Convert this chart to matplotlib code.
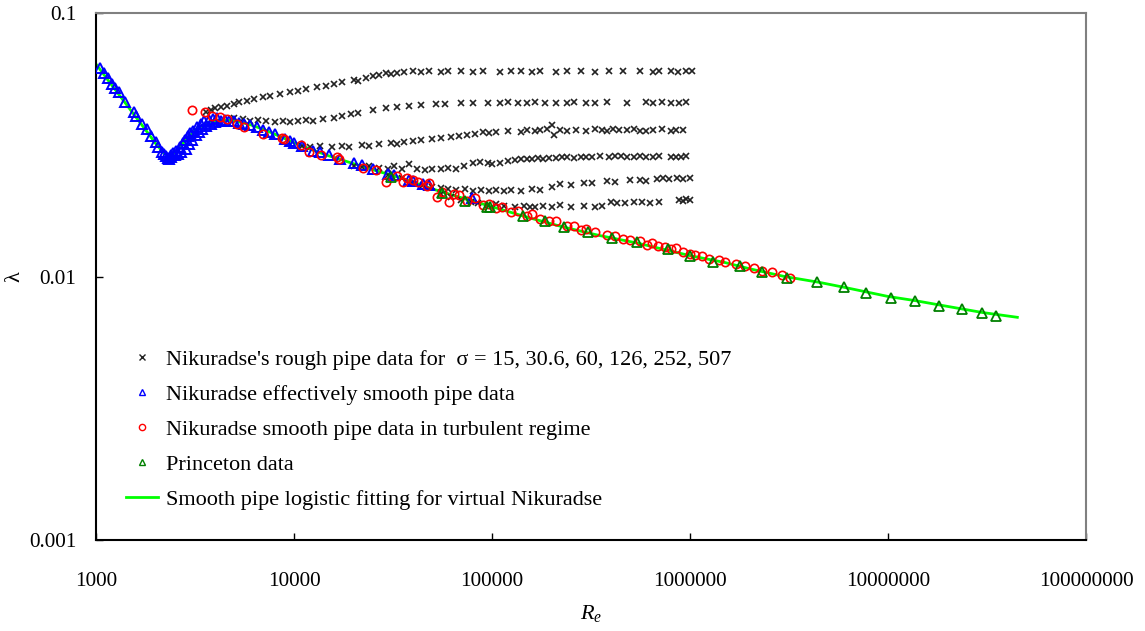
# -*- coding: utf-8 -*-
'''
Nikuradse / Princeton friction factor data, log-log
'''
import matplotlib
matplotlib.use('Agg')
import matplotlib.pyplot as plt
from matplotlib.ticker import FixedLocator, NullLocator

# logistic fitting line (smooth pipe)
fit_re = [950, 1000, 1200, 1500, 1800, 2000, 2200, 2300, 2500, 2800, 3200, 3700, 4200,
          5000, 6000, 7000, 8500, 10000, 12000, 15000, 20000, 26000, 35000, 50000, 70000,
          100000, 150000, 230000, 350000, 540000, 1000000, 1500000, 2000000, 3000000,
          4500000, 6000000, 8000000, 10000000, 13700000, 20000000, 30000000, 45000000]
fit_lam = [0.0675, 0.064, 0.0533, 0.0427, 0.0356, 0.032, 0.0294, 0.0287, 0.0295, 0.0325,
           0.0362, 0.0385, 0.0393, 0.0390, 0.0377, 0.0362, 0.0340, 0.0322, 0.0305, 0.0287,
           0.0268, 0.0252, 0.0236, 0.0215, 0.0199, 0.0184, 0.0168, 0.0154, 0.0143, 0.0134,
           0.0120, 0.0113, 0.0107, 0.0100, 0.0095, 0.0091, 0.0087, 0.0084, 0.0081, 0.0077,
           0.0073, 0.0070]

# Nikuradse effectively smooth pipe data
blue_re = [1050, 1100, 1150, 1200, 1250, 1300, 1400, 1550, 1600, 1700, 1800, 1900, 2000,
           2050, 2150, 2200, 2250, 2300, 2350, 2400, 2400, 2450, 2500, 2550, 2600, 2650,
           2700, 2750, 2800, 2850, 2900, 2950, 3000, 3050, 3100, 3200, 3250, 3300, 3400,
           3450, 3500, 3600, 3700, 3800, 3900, 4000, 4100, 4300, 4500, 4700, 5000, 5300,
           5600, 6000, 6500, 7000, 7500, 8000, 9000, 9500, 10000, 11000, 12500, 13500,
           15000, 17000, 20000, 22000, 25000, 30000, 32000, 38000, 40000, 45000, 48000, 79000]
blue_lam = [0.0620, 0.0590, 0.0565, 0.0540, 0.0520, 0.0500, 0.0460, 0.0420, 0.0405, 0.0380,
            0.0362, 0.0342, 0.0325, 0.0310, 0.0298, 0.0292, 0.0286, 0.0282, 0.0280, 0.0284,
            0.0290, 0.0295, 0.0288, 0.0300, 0.0292, 0.0310, 0.0298, 0.0320, 0.0330, 0.0305,
            0.0340, 0.0318, 0.0350, 0.0330, 0.0358, 0.0345, 0.0370, 0.0352, 0.0380, 0.0362,
            0.0390, 0.0372, 0.0392, 0.0380, 0.0395, 0.0385, 0.0398, 0.0390, 0.0393, 0.0388,
            0.0390, 0.0384, 0.0380, 0.0375, 0.0368, 0.0360, 0.0352, 0.0346, 0.0333, 0.0328,
            0.0320, 0.0312, 0.0300, 0.0297, 0.0288, 0.0280, 0.0270, 0.0264, 0.0256, 0.0245,
            0.0243, 0.0233, 0.0230, 0.0224, 0.0222, 0.0198]

# Nikuradse smooth pipe data in turbulent regime
red_re = [3050, 3550, 3850, 4250, 4600, 5150, 5600, 6950, 8700, 8900, 10800, 11900, 13700,
          16400, 16800, 22300, 25900, 29000, 33000, 35500, 37000, 40000, 42400, 46800, 48000,
          52600, 56000, 61000, 64000, 68000, 75000, 82000, 90000, 97000, 105000, 112000,
          125000, 135000, 150000, 160000, 175000, 195000, 210000, 240000, 260000, 280000,
          300000, 330000, 380000, 420000, 460000, 500000, 560000, 610000, 640000, 690000,
          750000, 800000, 850000, 920000, 1000000, 1060000, 1150000, 1250000, 1400000,
          1500000, 1700000, 1900000, 2100000, 2300000, 2600000, 2900000, 3200000]
red_lam = [0.0428, 0.0420, 0.0408, 0.0402, 0.0396, 0.0378, 0.0369, 0.0348, 0.0336, 0.0332,
           0.0316, 0.0298, 0.0290, 0.0283, 0.0280, 0.0259, 0.0253, 0.0229, 0.0240, 0.0229,
           0.0236, 0.0232, 0.0229, 0.0220, 0.0226, 0.0201, 0.0210, 0.0192, 0.0206, 0.0203,
           0.0194, 0.0198, 0.0186, 0.0188, 0.0182, 0.0184, 0.0176, 0.0178, 0.0170, 0.0172,
           0.0166, 0.0163, 0.0162, 0.0155, 0.0156, 0.0150, 0.0152, 0.0147, 0.0144, 0.0143,
           0.0139, 0.0137, 0.0136, 0.0132, 0.0134, 0.0130, 0.0129, 0.0127, 0.0128, 0.0124,
           0.0122, 0.0121, 0.0120, 0.0117, 0.0116, 0.0114, 0.0112, 0.0110, 0.0108, 0.0105,
           0.0104, 0.0101, 0.0099]

# Princeton data
prin_re = [31000, 56000, 73000, 94000, 97500, 144000, 186000, 230000, 305000, 406000,
           540000, 770000, 1000000, 1300000, 1780000, 2300000, 3100000, 4400000, 6000000,
           7700000, 10300000, 13700000, 18200000, 23700000, 29700000, 35000000]
prin_lam = [0.0239, 0.0207, 0.0194, 0.0184, 0.0184, 0.0169, 0.0163, 0.0154, 0.0148, 0.0140,
            0.0135, 0.0127, 0.0120, 0.0114, 0.0110, 0.0104, 0.0099, 0.00955, 0.0091,
            0.00868, 0.0083, 0.0081, 0.0077, 0.0075, 0.0073, 0.0071]

# rough pipe data, sigma = 15
r15_re = [3600, 3800, 4000, 4300, 4600, 5000, 5300, 5800, 6300, 7000, 7600, 8500, 9500,
          10500, 11500, 13000, 14500, 16000, 17500, 20000, 21000, 23000, 25000, 27000, 29000,
          31000, 33000, 36000, 40000, 44000, 48000, 55000, 60000, 70000, 80000, 90000,
          110000, 125000, 140000, 160000, 175000, 210000, 240000, 280000, 330000, 390000,
          460000, 560000, 650000, 700000, 800000, 870000, 950000, 1020000]
r15_lam = [0.0420, 0.0430, 0.0435, 0.0440, 0.0445, 0.0452, 0.0458, 0.0465, 0.0472, 0.0478,
           0.0485, 0.0492, 0.0500, 0.0508, 0.0515, 0.0522, 0.0530, 0.0540, 0.0545, 0.0555,
           0.0550, 0.0565, 0.0575, 0.0580, 0.0590, 0.0585, 0.0592, 0.0598, 0.0600, 0.0595,
           0.0600, 0.0598, 0.0600, 0.0600, 0.0597, 0.0600, 0.0598, 0.0602, 0.0600, 0.0598,
           0.0600, 0.0597, 0.0600, 0.0600, 0.0598, 0.0600, 0.0600, 0.0600, 0.0598, 0.0600,
           0.0600, 0.0598, 0.0600, 0.0600]

# sigma = 30.6
r30_re = [5000, 5500, 6000, 6600, 7200, 8000, 8800, 9600, 10500, 11500, 12500, 14000, 16000,
          17500, 19500, 21000, 25000, 29000, 33000, 38000, 44000, 52000, 58000, 70000, 80000,
          95000, 110000, 120000, 135000, 150000, 165000, 185000, 210000, 240000, 260000,
          300000, 330000, 380000, 480000, 600000, 650000, 720000, 800000, 880000, 950000]
r30_lam = [0.0398, 0.0395, 0.0390, 0.0393, 0.0388, 0.0385, 0.0388, 0.0385, 0.0390, 0.0392,
           0.0390, 0.0395, 0.0400, 0.0405, 0.0415, 0.0418, 0.0428, 0.0435, 0.0440, 0.0442,
           0.0448, 0.0450, 0.0452, 0.0455, 0.0457, 0.0455, 0.0457, 0.0458, 0.0455, 0.0457,
           0.0458, 0.0457, 0.0455, 0.0457, 0.0458, 0.0457, 0.0456, 0.0458, 0.0457, 0.0458,
           0.0455, 0.0458, 0.0457, 0.0454, 0.0458]

# sigma = 60
r60_re = [11000, 12000, 13500, 15500, 17500, 19000, 22000, 24000, 27000, 31000, 33000,
          36000, 40000, 44000, 50000, 55000, 62000, 68000, 75000, 82000, 90000, 97000,
          105000, 120000, 140000, 150000, 165000, 175000, 190000, 200000, 205000, 220000,
          240000, 265000, 300000, 330000, 360000, 380000, 410000, 440000, 480000, 520000,
          560000, 600000, 650000, 720000, 800000, 850000, 920000]
r60_lam = [0.0312, 0.0310, 0.0312, 0.0310, 0.0312, 0.0309, 0.0316, 0.0313, 0.0318, 0.0320,
           0.0318, 0.0324, 0.0326, 0.0330, 0.0332, 0.0336, 0.0338, 0.0340, 0.0345, 0.0348,
           0.0352, 0.0350, 0.0355, 0.0357, 0.0355, 0.0360, 0.0358, 0.0360, 0.0362, 0.0376,
           0.0345, 0.0360, 0.0358, 0.0360, 0.0357, 0.0362, 0.0360, 0.0358, 0.0362, 0.0360,
           0.0360, 0.0362, 0.0358, 0.0357, 0.0360, 0.0362, 0.0358, 0.0360, 0.0360]

# sigma = 126
r126_re = [20000, 22000, 24000, 27000, 30000, 32000, 35000, 38000, 42000, 46000, 50000,
           55000, 60000, 66000, 72000, 80000, 87000, 95000, 100000, 110000, 120000, 130000,
           140000, 150000, 160000, 170000, 180000, 195000, 210000, 225000, 240000, 260000,
           280000, 300000, 320000, 350000, 390000, 420000, 450000, 480000, 520000, 560000,
           600000, 650000, 700000, 800000, 850000, 900000, 960000]
r126_lam = [0.0262, 0.0260, 0.0262, 0.0258, 0.0256, 0.0262, 0.0255, 0.0268, 0.0256, 0.0254,
            0.0256, 0.0255, 0.0258, 0.0256, 0.0262, 0.0270, 0.0272, 0.0270, 0.0268, 0.0270,
            0.0275, 0.0276, 0.0278, 0.0280, 0.0278, 0.0281, 0.0280, 0.0282, 0.0281, 0.0283,
            0.0284, 0.0282, 0.0285, 0.0283, 0.0285, 0.0286, 0.0284, 0.0286, 0.0287, 0.0283,
            0.0285, 0.0286, 0.0284, 0.0285, 0.0286, 0.0285, 0.0284, 0.0285, 0.0286]

# sigma = 252
r252_re = [30000, 35000, 40000, 45000, 50000, 55000, 60000, 66000, 73000, 80000, 88000,
           97000, 105000, 115000, 125000, 140000, 160000, 175000, 200000, 220000, 250000,
           290000, 320000, 380000, 420000, 500000, 560000, 600000, 680000, 730000, 780000,
           860000, 920000, 1000000]
r252_lam = [0.0242, 0.0236, 0.0228, 0.0222, 0.0218, 0.0216, 0.0214, 0.0213, 0.0215, 0.0212,
            0.0213, 0.0211, 0.0213, 0.0212, 0.0213, 0.0212, 0.0214, 0.0213, 0.0218, 0.0224,
            0.0223, 0.0226, 0.0226, 0.0230, 0.0228, 0.0232, 0.0233, 0.0231, 0.0235, 0.0236,
            0.0234, 0.0236, 0.0235, 0.0236]

# sigma = 507
r507_re = [55000, 62000, 70000, 78000, 85000, 95000, 105000, 115000, 130000, 145000, 155000,
           165000, 180000, 200000, 220000, 250000, 290000, 330000, 360000, 400000, 430000,
           470000, 520000, 570000, 630000, 700000, 880000, 920000, 960000, 1000000]
r507_lam = [0.0205, 0.0200, 0.0195, 0.0192, 0.0190, 0.0187, 0.0188, 0.0185, 0.0184, 0.0185,
            0.0183, 0.0184, 0.0185, 0.0184, 0.0186, 0.0184, 0.0185, 0.0184, 0.0185, 0.0192,
            0.0190, 0.0190, 0.0191, 0.0191, 0.0190, 0.0192, 0.0195, 0.0194, 0.0196, 0.0195]

x_ticks = [1e3, 1e4, 1e5, 1e6, 1e7, 1e8]
x_labels = ['1000', '10000', '100000', '1000000', '10000000', '100000000']
y_ticks = [0.001, 0.01, 0.1]
y_labels = ['0.001', '0.01', '0.1']

plt.rcParams['font.family'] = ['Liberation Serif', 'DejaVu Serif']
plt.rcParams['mathtext.fontset'] = 'custom'
plt.rcParams['mathtext.it'] = 'Liberation Serif:italic'
plt.rcParams['mathtext.rm'] = 'Liberation Serif'

fig = plt.figure(figsize=(11.45, 6.31), dpi=100)
ax = fig.add_axes([96/1145, 1-540/631, 990/1145, 527/631])

ax.plot(fit_re, fit_lam, color='#00FF00', lw=2, zorder=1)
rough = [(r15_re, r15_lam), (r30_re, r30_lam), (r60_re, r60_lam),
         (r126_re, r126_lam), (r252_re, r252_lam), (r507_re, r507_lam)]
for re, lam in rough:
    ax.plot(re, lam, 'x', color='#222222', ms=5, mew=1.2, zorder=2)
ax.plot(blue_re, blue_lam, '^', mfc='none', mec='#0000FF', ms=7, mew=1.4, zorder=3)
ax.plot(red_re, red_lam, 'o', mfc='none', mec='#FF0000', ms=6, mew=1.2, zorder=4)
ax.plot(prin_re, prin_lam, '^', mfc='none', mec='#008000', ms=7, mew=1.3, zorder=5)

ax.set_xscale('log')
ax.set_yscale('log')
ax.set_xlim(1e3, 1e8)
ax.set_ylim(1e-3, 1e-1)
ax.xaxis.set_major_locator(FixedLocator(x_ticks))
ax.yaxis.set_major_locator(FixedLocator(y_ticks))
ax.xaxis.set_minor_locator(NullLocator())
ax.yaxis.set_minor_locator(NullLocator())
ax.set_xticklabels(x_labels)
ax.set_yticklabels(y_labels)
ax.tick_params(direction='in', length=5, width=1, labelsize=15.3)
ax.tick_params(axis='x', pad=23)
ax.tick_params(axis='y', pad=14)

for s in ['left', 'bottom']:
    ax.spines[s].set_color('black')
    ax.spines[s].set_linewidth(1.5)
for s in ['top', 'right']:
    ax.spines[s].set_color('#808080')
    ax.spines[s].set_linewidth(1.5)

ax.set_xlabel('$R_e$', fontsize=16, va='center')
ax.xaxis.set_label_coords(0.5, -(613-540)/527)
ax.set_ylabel('λ', fontsize=16, va='center')
ax.yaxis.set_label_coords((15-96)/990, 0.5)

# legend entries (proxy artists so the legend shows one small marker each)
h1, = ax.plot([], [], 'x', color='#222222', ms=4, mew=1)
h2, = ax.plot([], [], '^', mfc='none', mec='#0000FF', ms=4.5, mew=1)
h3, = ax.plot([], [], 'o', mfc='none', mec='#FF0000', ms=4.5, mew=1)
h4, = ax.plot([], [], '^', mfc='none', mec='#008000', ms=4.5, mew=1)
h5, = ax.plot([], [], color='#00FF00', lw=2)
ax.legend([h1, h2, h3, h4, h5],
          ["Nikuradse's rough pipe data for  σ = 15, 30.6, 60, 126, 252, 507",
           'Nikuradse effectively smooth pipe data',
           'Nikuradse smooth pipe data in turbulent regime',
           'Princeton data',
           'Smooth pipe logistic fitting for virtual Nikuradse'],
          loc='upper left', bbox_to_anchor=(30/990, (540-349)/527), frameon=False,
          fontsize=16, handlelength=1.44, handletextpad=0.36, labelspacing=0.65,
          borderpad=0, borderaxespad=0)

plt.savefig('out.png', dpi=100)
